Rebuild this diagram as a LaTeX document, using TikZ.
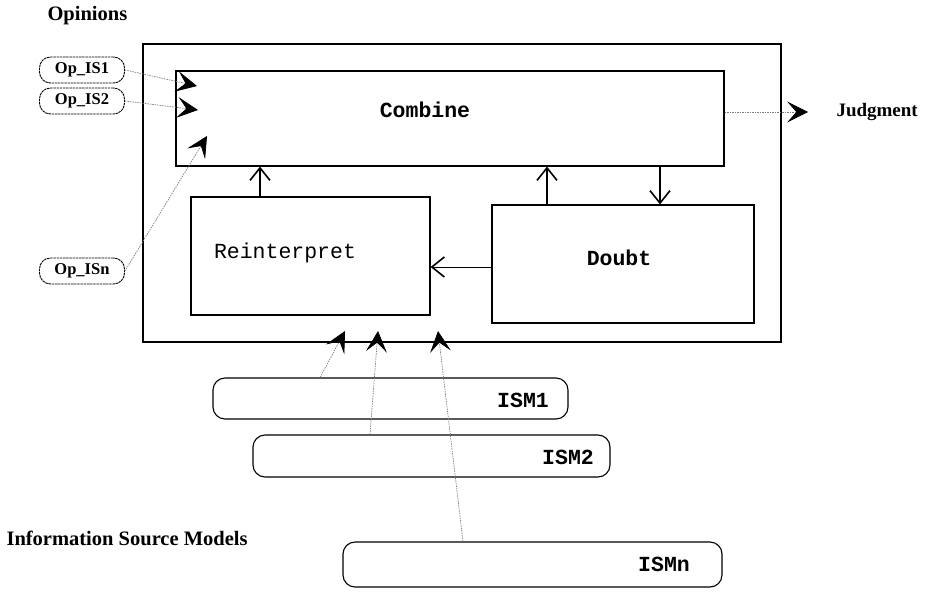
\documentclass[tikz,border=0pt]{standalone}
\usepackage{fontspec}
\setmainfont{Liberation Serif}
\setmonofont{Liberation Mono}
\usetikzlibrary{arrows.meta}
\begin{document}
\begin{tikzpicture}[x=1pt,y=-1pt,
  box/.style={draw, line width=1.2pt, inner sep=0pt},
  mono/.style={font=\ttfamily\fontsize{21.5}{24}\selectfont},
  monob/.style={font=\ttfamily\bfseries\fontsize{21.5}{24}\selectfont},
  serifb/.style={font=\bfseries\fontsize{20.5}{24}\selectfont},
  opbox/.style={draw, line width=0.9pt, dash pattern=on 2.5pt off 0.7pt, rounded corners=11pt, minimum width=85pt, minimum height=26pt, inner sep=0pt, font=\bfseries\fontsize{16.5}{19}\selectfont},
  ismbox/.style={draw, line width=1.1pt, rounded corners=12pt, inner sep=0pt},
  flow/.style={line width=1.2pt, -{Straight Barb[length=10pt,width=16pt,line width=1.6pt,scale=1.25]}},
  faint/.style={black!50, line width=0.7pt, dash pattern=on 1.5pt off 1pt, -{Stealth[length=16pt,width=16pt,inset=7pt,color=black,scale=1.3]}},
]
\useasboundingbox (0,0) rectangle (929,592);

% outer frame and boxes
\node[box, minimum width=638pt, minimum height=298pt] (outer) at (462,193) {};
\node[box, minimum width=548pt, minimum height=95pt] (combine) at (450,118.5) {};
\node[monob] (combinelbl) at (425,110) {Combine};
\node[box, minimum width=239pt, minimum height=118pt] (reint) at (310.5,256) {};
\node[mono] (reintlbl) at (285,253) {Reinterpret};
\node[box, minimum width=262pt, minimum height=118pt] (doubt) at (623,264) {};
\node[monob] (doubtlbl) at (619,258) {Doubt};

% internal flows
\coordinate (r1) at ([xshift=-50.5pt]reint.north);
\draw[flow] (r1) -- (r1 |- combine.south);
\coordinate (d1) at ([xshift=-76pt]doubt.north);
\draw[flow] (d1) -- (d1 |- combine.south);
\coordinate (d2) at ([xshift=37pt]doubt.north);
\draw[flow] (d2 |- combine.south) -- (d2);
\coordinate (d3) at ([yshift=-3pt]doubt.west);
\draw[flow, line width=0.8pt] (d3) -- (d3 -| reint.east);

% judgment
\node[font=\bfseries\fontsize{19}{22}\selectfont, anchor=west] (judg) at (833,112) {Judgment};
\coordinate (jt) at (808,112);
\draw[faint] (combine.east |- jt) -- (jt);

% opinions
\node[font=\bfseries\fontsize{20.5}{24}\selectfont, anchor=west] (opinions) at (44,16) {Opinions};
\node[opbox] (op1) at (82,70) {Op\_IS1};
\node[opbox] (op2) at (82,101) {Op\_IS2};
\node[opbox] (opn) at (82,271) {Op\_ISn};
\coordinate (c1) at (197,86);
\coordinate (c2) at (198,110);
\coordinate (c3) at (207,136);
\draw[faint] (op1.east) -- (c1);
\draw[faint] (op2.east) -- (c2);
\draw[faint] (opn.east) -- (c3);

% information source models
\node[serifb, anchor=west] (ismlbl) at (3,538) {Information Source Models};
\node[ismbox, minimum width=355pt, minimum height=41pt] (ism1) at (390.5,398.5) {};
\node[monob] (ism1lbl) at (523,400) {ISM1};
\node[ismbox, minimum width=357pt, minimum height=42pt] (ism2) at (431.5,456) {};
\node[monob] (ism2lbl) at (568,457) {ISM2};
\node[ismbox, minimum width=379pt, minimum height=45pt] (ismn) at (532.5,564.5) {};
\node[monob] (ismnlbl) at (664,564) {ISMn};

\coordinate (t1) at (345,331);
\coordinate (t2) at (378,331);
\coordinate (t3) at (438,331);
\coordinate (s1) at ([xshift=-70.5pt]ism1.north);
\coordinate (s2) at ([xshift=-61.5pt]ism2.north);
\coordinate (s3) at ([xshift=-69.5pt]ismn.north);
\draw[faint] (s1) -- (t1);
\draw[faint] (s2) -- (t2);
\draw[faint] (s3) -- (t3);
\end{tikzpicture}
\end{document}
